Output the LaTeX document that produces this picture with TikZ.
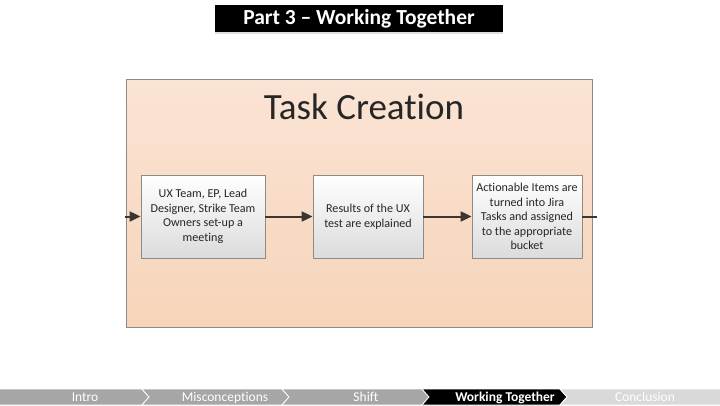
\documentclass[tikz,border=0pt]{standalone}
\usepackage{fontspec}
\setmainfont{Carlito}[Ligatures={NoCommon}]
\usetikzlibrary{arrows.meta, shadows}
\definecolor{peachtop}{HTML}{FBE4D5}
\definecolor{peachbot}{HTML}{F6D4B9}
\definecolor{framegray}{HTML}{8E8A88}
\definecolor{flowline}{HTML}{3D3530}
\definecolor{navgray}{HTML}{A6A6A6}
\definecolor{navlight}{HTML}{D9D9D9}
\definecolor{inkdark}{HTML}{262626}
\tikzset{
  taskbox/.style={draw=framegray, line width=0.8pt, top color=white, bottom color=black!14,
    text=inkdark, align=center, font=\fontsize{12.1}{14.6}\selectfont, inner sep=0pt,
    minimum height=83pt},
  flow/.style={draw=flowline, line width=2pt, -{Triangle[length=11pt,width=10pt]}},
  navseg/.style={draw=white, line width=0.8pt},
  navtext/.style={text=white, anchor=base},
}

\begin{document}
\begin{tikzpicture}[x=1pt, y=-1pt]
\useasboundingbox (0,0) rectangle (720,405);
\fill[white] (0,0) rectangle (720,405);

% title bar
\node[fill=black, text=white, minimum width=288pt, minimum height=27pt, inner sep=0pt,
  font=\fontsize{21.5}{24}\bfseries\selectfont,
  drop shadow={opacity=0.25, shadow xshift=0pt, shadow yshift=-2pt}]
  (title) at (359,18.5) {Part 3 -- Working Together};

% panel
\draw[framegray, line width=1pt, top color=peachtop, bottom color=peachbot]
  (126,79) rectangle (592,327);
\node[text=inkdark, font=\fontsize{37}{40}\selectfont] (heading) at (364,107) {Task Creation};

% steps
\node[taskbox, minimum width=124pt] (meet) at (203,216.5)
  {UX Team, EP, Lead\\Designer, Strike Team\\Owners set-up a\\meeting};
\node[taskbox, minimum width=110pt] (explain) at (368,216.5)
  {Results of the UX\\test are explained};
\node[taskbox, minimum width=110pt] (jira) at (527,216.5)
  {Actionable Items are\\turned into Jira\\Tasks and assigned\\to the appropriate\\bucket};

\coordinate (in) at (125,216.5);
\coordinate (out) at (597,216.5);
\draw[flow] (in) -- (meet);
\draw[flow] (meet) -- (explain);
\draw[flow] (explain) -- (jira);
\draw[flow, -] (jira) -- (out);

% navigation bar
\foreach \a/\b/\c/\fillc/\lbl/\f in {-8/142/85/navgray/Intro/,
  142/282/225/navgray/Misconceptions/,
  282/422/366/navgray/Shift/,
  422/560/505/black/Working Together/\bfseries,
  560/722/645/navlight/Conclusion/}
{
  \path[navseg, fill=\fillc] (\a,389) -- (\b,389) -- (\b+7,397) -- (\b,405)
    -- (\a,405) -- (\a+7,397) -- cycle;
  \node[navtext, font=\fontsize{13.5}{15}\selectfont\f] at (\c,401.5) {\lbl};
}
\end{tikzpicture}
\end{document}
